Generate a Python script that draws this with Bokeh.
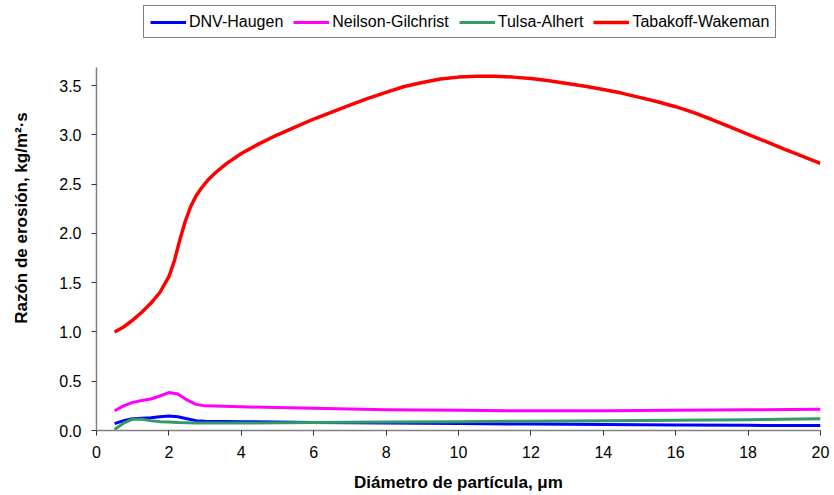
from bokeh.plotting import figure
from bokeh.models import Range1d, Legend, LegendItem, FixedTicker, NumeralTickFormatter
from bokeh.embed import file_html
from bokeh.resources import INLINE

x_red = [0.5, 0.75, 1.0, 1.25, 1.5, 1.75, 2.0, 2.15, 2.3, 2.45, 2.6, 2.75, 2.9, 3.1, 3.3, 3.6, 4, 4.5, 5, 5.5, 6, 6.5, 7, 7.5, 8, 8.5, 9, 9.5, 10, 10.5, 11, 11.5, 12, 12.5, 13, 13.5, 14, 14.5, 15, 15.5, 16, 16.5, 17, 17.5, 18, 19, 20]
tabakoff = [1.00, 1.05, 1.12, 1.20, 1.29, 1.40, 1.56, 1.72, 1.93, 2.12, 2.27, 2.38, 2.46, 2.55, 2.62, 2.71, 2.81, 2.91, 3.00, 3.08, 3.16, 3.23, 3.30, 3.37, 3.43, 3.49, 3.53, 3.565, 3.585, 3.595, 3.595, 3.585, 3.57, 3.548, 3.52, 3.492, 3.46, 3.423, 3.38, 3.335, 3.285, 3.225, 3.155, 3.08, 3.005, 2.855, 2.71]

x_low = [0.5, 0.75, 1.0, 1.25, 1.5, 1.75, 2.0, 2.25, 2.5, 2.75, 3.0, 3.5, 4, 6, 8, 10, 12, 14, 16, 18, 20]
dnv = [0.07, 0.10, 0.12, 0.125, 0.13, 0.14, 0.148, 0.14, 0.12, 0.10, 0.095, 0.092, 0.09, 0.08, 0.075, 0.07, 0.065, 0.06, 0.055, 0.052, 0.05]
neilson = [0.20, 0.25, 0.285, 0.305, 0.32, 0.35, 0.385, 0.37, 0.31, 0.265, 0.25, 0.245, 0.24, 0.225, 0.21, 0.205, 0.20, 0.20, 0.205, 0.21, 0.215]
tulsa = [0.01, 0.075, 0.115, 0.115, 0.10, 0.09, 0.085, 0.08, 0.078, 0.076, 0.075, 0.075, 0.076, 0.08, 0.085, 0.09, 0.095, 0.10, 0.105, 0.11, 0.12]

names = ["DNV-Haugen", "Neilson-Gilchrist", "Tulsa-Alhert", "Tabakoff-Wakeman"]
colors = ["#0000FF", "#FF00FF", "#339966", "#FF0000"]
x_ticks = [0, 2, 4, 6, 8, 10, 12, 14, 16, 18, 20]
y_ticks = [0.0, 0.5, 1.0, 1.5, 2.0, 2.5, 3.0, 3.5]
y_axis_max = 3.68

p = figure(width=834, height=495, output_backend="svg", toolbar_location=None,
           x_range=Range1d(0, 20), y_range=Range1d(0, 4.3116),
           min_border_left=96, min_border_right=14, min_border_top=5, min_border_bottom=65)
p.outline_line_color = None
p.xgrid.visible = False
p.ygrid.visible = False
p.background_fill_color = "white"

font = "Liberation Sans"
for ax in (p.xaxis[0], p.yaxis[0]):
    ax.axis_line_color = "#808080"
    ax.axis_line_width = 1.5
    ax.major_tick_line_color = "#333333"
    ax.major_tick_out = 5
    ax.major_tick_in = 0
    ax.minor_tick_line_color = None
    ax.major_label_text_font = font
    ax.major_label_text_font_size = "16px"
    ax.major_label_text_color = "#000000"
    ax.axis_label_text_font = font
    ax.axis_label_text_font_size = "17px"
    ax.axis_label_text_font_style = "bold"
    ax.axis_label_text_color = "#000000"

p.yaxis.bounds = (0, y_axis_max)
p.xaxis.ticker = FixedTicker(ticks=x_ticks)
p.yaxis.ticker = FixedTicker(ticks=y_ticks)
p.yaxis.formatter = NumeralTickFormatter(format="0.0")
p.xaxis.axis_label = "Diámetro de partícula, μm"
p.yaxis.axis_label = "Razón de erosión, kg/m²·s"
p.xaxis.axis_label_standoff = 12
p.yaxis.axis_label_standoff = 25
p.xaxis.major_label_standoff = 10
p.yaxis.major_label_standoff = 10

r1 = p.line(x_low, dnv, line_color=colors[0], line_width=3, line_join="round")
r2 = p.line(x_low, neilson, line_color=colors[1], line_width=3, line_join="round")
r3 = p.line(x_low, tulsa, line_color=colors[2], line_width=3, line_join="round")
r4 = p.line(x_red, tabakoff, line_color=colors[3], line_width=3.5, line_join="round")

legend = Legend(items=[LegendItem(label=names[i], renderers=[r]) for i, r in enumerate([r1, r2, r3, r4])],
                orientation="horizontal", location=(47, 392),
                border_line_color="#000000", border_line_width=1,
                background_fill_color="white", background_fill_alpha=1,
                label_text_font=font, label_text_font_size="16px", label_text_color="#000000",
                glyph_width=36, glyph_height=16, label_standoff=3, spacing=10,
                padding=6, margin=0, label_height=19)
p.add_layout(legend, "center")

open("out.html", "w").write(file_html(p, INLINE))
